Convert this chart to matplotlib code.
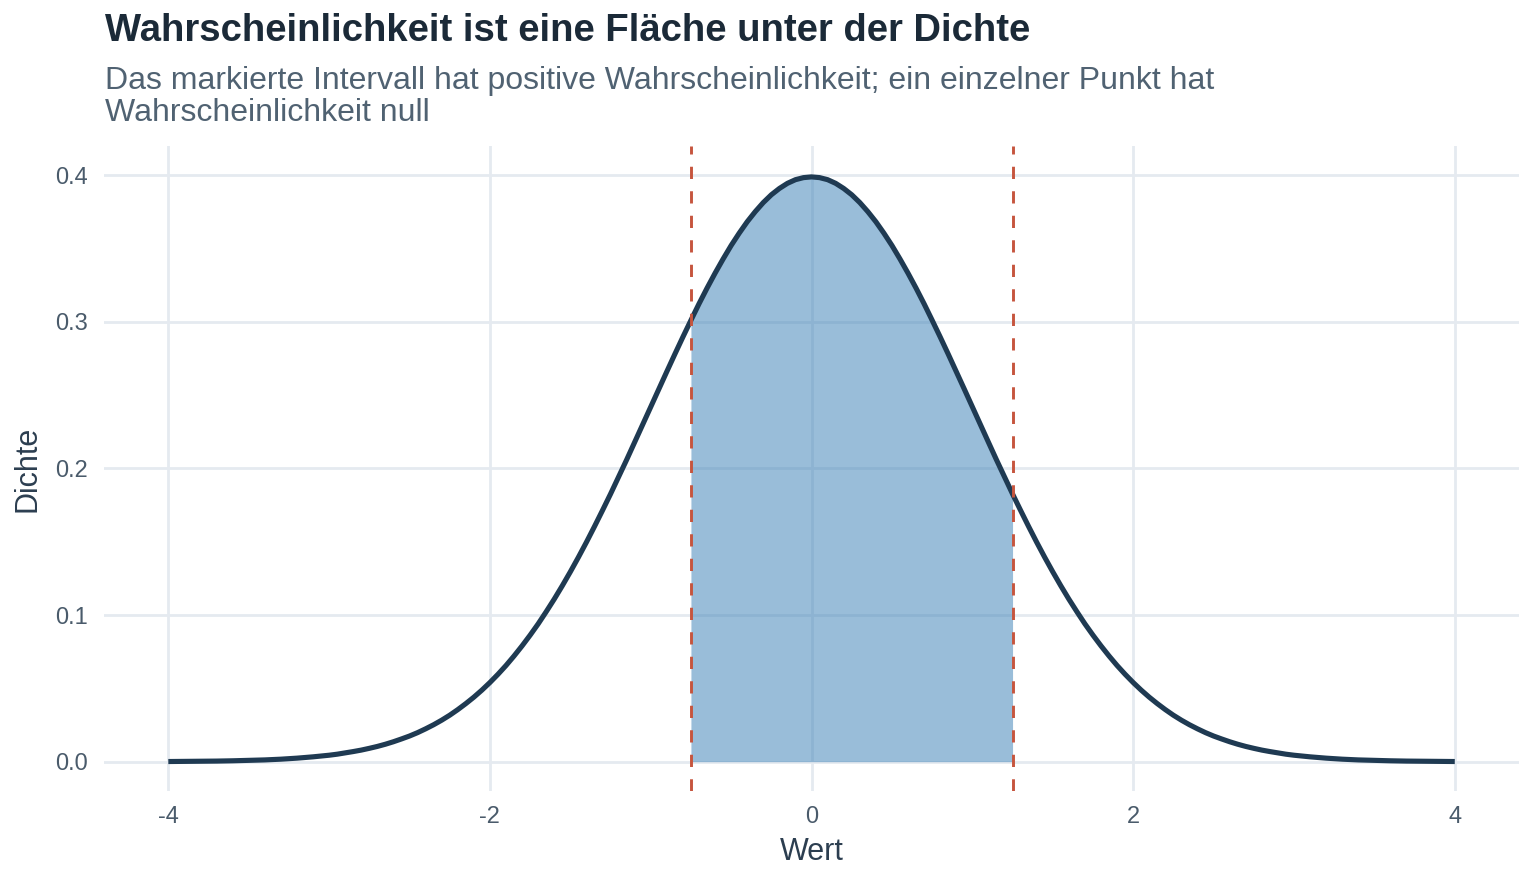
import numpy as np
import matplotlib
matplotlib.use("Agg")
import matplotlib.pyplot as plt

# Density values (right half; curve is symmetric about 0)
x_half = [0.0, 0.05, 0.1, 0.15, 0.2, 0.25, 0.3, 0.35, 0.4, 0.45, 0.5, 0.55, 0.6, 0.65,
          0.7, 0.75, 0.8, 0.85, 0.9, 0.95, 1.0, 1.05, 1.1, 1.15, 1.2, 1.25, 1.3, 1.35,
          1.4, 1.45, 1.5, 1.55, 1.6, 1.65, 1.7, 1.75, 1.8, 1.85, 1.9, 1.95, 2.0, 2.05,
          2.1, 2.15, 2.2, 2.25, 2.3, 2.35, 2.4, 2.45, 2.5, 2.55, 2.6, 2.65, 2.7, 2.75,
          2.8, 2.85, 2.9, 2.95, 3.0, 3.1, 3.2, 3.3, 3.4, 3.5, 3.6, 3.7, 3.8, 3.9, 4.0]
d_half = [0.3989, 0.3984, 0.3970, 0.3945, 0.3910, 0.3867, 0.3814, 0.3752, 0.3683, 0.3605,
          0.3521, 0.3429, 0.3332, 0.3230, 0.3123, 0.3011, 0.2897, 0.2780, 0.2661, 0.2541,
          0.2420, 0.2299, 0.2179, 0.2059, 0.1942, 0.1826, 0.1714, 0.1604, 0.1497, 0.1394,
          0.1295, 0.1200, 0.1109, 0.1023, 0.0940, 0.0863, 0.0790, 0.0721, 0.0656, 0.0596,
          0.0540, 0.0488, 0.0440, 0.0396, 0.0355, 0.0317, 0.0283, 0.0252, 0.0224, 0.0198,
          0.0175, 0.0155, 0.0136, 0.0119, 0.0104, 0.0091, 0.0079, 0.0069, 0.0060, 0.0051,
          0.0044, 0.0033, 0.0024, 0.0017, 0.0012, 0.0009, 0.0006, 0.0004, 0.0003, 0.0002,
          0.0001]

# Highlighted interval
interval = [-0.75, 1.25]

x_ticks = [-4, -2, 0, 2, 4]
x_ticklabels = ["-4", "-2", "0", "2", "4"]
y_ticks = [0.0, 0.1, 0.2, 0.3, 0.4]
y_ticklabels = ["0.0", "0.1", "0.2", "0.3", "0.4"]

title = "Wahrscheinlichkeit ist eine Fläche unter der Dichte"
subtitle = ("Das markierte Intervall hat positive Wahrscheinlichkeit; ein einzelner Punkt hat\n"
            "Wahrscheinlichkeit null")
xlabel = "Wert"
ylabel = "Dichte"

plt.rcParams['font.family'] = ['Liberation Sans', 'DejaVu Sans']

xs = np.array([-v for v in x_half[::-1]] + x_half[1:])
ds = np.array(d_half[::-1] + d_half[1:])

fig = plt.figure(figsize=(15.36, 8.83), dpi=100)
ax = fig.add_axes([0.0677, 0.1042, 0.9213, 0.7305])

ax.set_axisbelow(True)
ax.grid(True, color="#e5eaf0", lw=2.0)

mask = (xs >= interval[0] - 1e-9) & (xs <= interval[1] + 1e-9)
ax.fill_between(xs[mask], 0, ds[mask], color="#4687ba", alpha=0.55, lw=0, zorder=2)

ax.plot(xs, ds, color="#1f3a52", lw=3.7, zorder=4, solid_capstyle="butt")

for b in interval:
    ax.axvline(b, color="#c6553e", lw=2.1, ls=(0, (4.2, 4.2)), zorder=5)

ax.set_xlim(-4.4, 4.4)
ax.set_ylim(-0.02, 0.42)
ax.set_xticks(x_ticks)
ax.set_xticklabels(x_ticklabels)
ax.set_yticks(y_ticks)
ax.set_yticklabels(y_ticklabels)
ax.tick_params(length=0, labelsize=17, labelcolor="#4a5b6b")
ax.tick_params(axis="x", pad=11)
ax.tick_params(axis="y", pad=11.5)
for s in ax.spines.values():
    s.set_visible(False)

ax.set_xlabel(xlabel, fontsize=22, color="#2c3e50", labelpad=6)
ax.set_ylabel(ylabel, fontsize=22, color="#2c3e50", labelpad=9)

fig.text(105 / 1536, 1 - 31 / 883, title, fontsize=27.5, fontweight="bold",
         color="#1b2a38", va="center", ha="left")
fig.text(105 / 1536, 1 - 97 / 883, subtitle, fontsize=23, color="#506272",
         va="center", ha="left", linespacing=1.1)

fig.savefig("out.png", dpi=100)
